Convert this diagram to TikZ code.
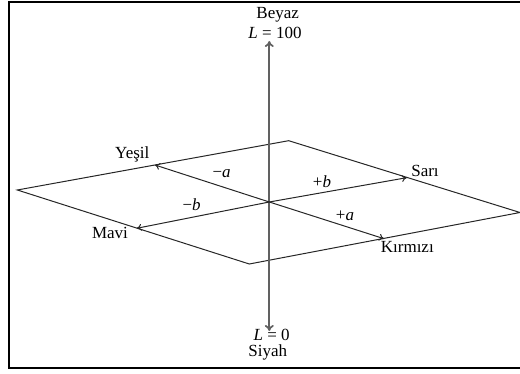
\documentclass[tikz,border=0pt]{standalone}
\usepackage{fontspec}
\setmainfont{Liberation Serif}
\usetikzlibrary{arrows.meta}
\begin{document}
\begin{tikzpicture}[x=1pt,y=-1pt,
  plane/.style={draw=black!85, line width=1pt, line join=miter},
  axis/.style={draw=black!62, line width=1.7pt, {To[length=6pt,width=9pt]}-{To[length=6pt,width=9pt]}},
  dir/.style={draw=black!85, line width=1pt, -{To[length=5pt,width=7pt]}},
  lbl/.style={font=\fontsize{17}{18}\selectfont, inner sep=0pt},
  frame/.style={draw=black, line width=2pt}]
  \useasboundingbox (0,0) rectangle (520,374);
  % outer frame
  \draw[frame] (9,2) rectangle (523,368);

  % the a*-b* plane
  \coordinate (pl) at (17.3,190);
  \coordinate (pt) at (288.7,140.7);
  \coordinate (pr) at (520,212.5);
  \coordinate (pb) at (249.3,264);
  \draw[plane] (pl) -- (pt) -- (pr) -- (pb) -- cycle;

  % centre and axis end points
  \coordinate (o) at (269.3,202);
  \coordinate (ltop) at (269.3,41);
  \coordinate (lbot) at (269.3,331);
  \coordinate (green) at (155,165);
  \coordinate (yellow) at (406.7,177.7);
  \coordinate (blue) at (136.7,228.3);
  \coordinate (red) at (384,238.7);

  % lightness axis
  \draw[axis] (lbot) -- (ltop);

  % chroma directions
  \draw[dir] (o) -- (green);
  \draw[dir] (o) -- (yellow);
  \draw[dir] (o) -- (blue);
  \draw[dir] (o) -- (red);

  % labels
  \node[lbl] (beyaz) at (277.7,15) {Beyaz};
  \node[lbl] (l100) at (275,33.3) {\textit{L} = 100};
  \node[lbl] (l0) at (271.7,335) {\textit{L} = 0};
  \node[lbl] (siyah) at (267.7,352.3) {Siyah};
  \node[lbl] (yesil) at (132.3,154.3) {Yeşil};
  \node[lbl] (sari) at (425,170.7) {Sarı};
  \node[lbl] (mavi) at (110,233.3) {Mavi};
  \node[lbl] (kirmizi) at (407.3,246.7) {Kırmızı};
  \node[lbl] (ma) at (221.7,174) {−\textit{a}};
  \node[lbl] (pb2) at (322,181.7) {+\textit{b}};
  \node[lbl] (mb) at (191.7,204.3) {−\textit{b}};
  \node[lbl] (pa) at (345,215.7) {+\textit{a}};
\end{tikzpicture}
\end{document}
